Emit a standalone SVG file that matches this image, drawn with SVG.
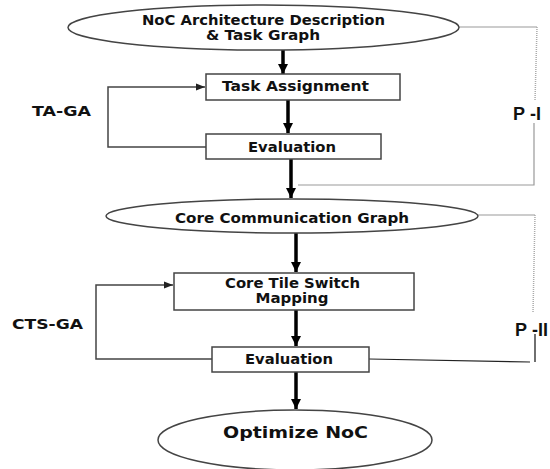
<svg xmlns="http://www.w3.org/2000/svg" width="550" height="469" viewBox="0 0 550 469">
<defs>
<style>
.shape{fill:#fff;stroke:#444;stroke-width:1.5}
.t{font-family:"DejaVu Sans","Liberation Sans",sans-serif;font-weight:bold;fill:#111;text-anchor:middle}
.p{font-family:"Liberation Sans",Arial,sans-serif;font-weight:bold;fill:#111}
.flow{stroke:#000;stroke-width:3.5;fill:none}
.loop{stroke:#444;stroke-width:1.5;fill:none}
.br{stroke:#999;stroke-width:1.2;fill:none}
.dot{stroke:#aaa;stroke-width:1.5;fill:none;stroke-dasharray:1 1}
</style>
<marker id="big" markerUnits="userSpaceOnUse" markerWidth="12" markerHeight="10" refX="10" refY="5" orient="auto">
<path d="M0,0 L10,5 L0,10 Z" fill="#000"/>
</marker>
<marker id="small" markerUnits="userSpaceOnUse" markerWidth="10" markerHeight="8" refX="9" refY="4" orient="auto">
<path d="M0,0.5 L9,4 L0,7.5 Z" fill="#222"/>
</marker>
</defs>
<rect width="550" height="469" fill="#fff"/>

<g id="connectors">
<line class="flow" x1="283" y1="50" x2="283" y2="74" marker-end="url(#big)"/>
<line class="flow" x1="288" y1="100" x2="288" y2="133" marker-end="url(#big)"/>
<line class="flow" x1="291" y1="159" x2="291" y2="198" marker-end="url(#big)"/>
<line class="flow" x1="296" y1="233" x2="296" y2="272" marker-end="url(#big)"/>
<line class="flow" x1="296" y1="310" x2="296" y2="346" marker-end="url(#big)"/>
<line class="flow" x1="296" y1="372" x2="296" y2="409" marker-end="url(#big)"/>
<polyline class="loop" points="206,147 108,147 108,87 205,87" marker-end="url(#small)"/>
<polyline class="loop" points="212,359 96,359 96,285 173,285" marker-end="url(#small)"/>
<polyline class="br" points="459,27 537,27"/>
<line class="dot" x1="537" y1="27" x2="535" y2="101"/>
<polyline class="br" points="534,123 534,185 298,185"/>
<polyline class="br" points="478,215 535,215"/>
<line class="dot" x1="535" y1="215" x2="533" y2="313"/>
<line stroke="#222" stroke-width="1.3" x1="535" y1="334" x2="535" y2="362"/>
<line stroke="#222" stroke-width="1.2" x1="369" y1="359" x2="530" y2="362"/>
</g>

<g id="n-noc-arch">
<ellipse class="shape" cx="263.5" cy="27.5" rx="195.5" ry="22.5"/>
<text class="t" x="263.5" y="25" font-size="14" textLength="243" lengthAdjust="spacingAndGlyphs">NoC Architecture Description</text>
<text class="t" x="263" y="40" font-size="14" textLength="114" lengthAdjust="spacingAndGlyphs">&amp; Task Graph</text>
</g>

<g id="n-task-assignment">
<rect class="shape" x="206" y="74" width="194" height="26"/>
<text class="t" x="295.5" y="91" font-size="14" textLength="147" lengthAdjust="spacingAndGlyphs">Task Assignment</text>
</g>

<g id="n-eval1">
<rect class="shape" x="206" y="134" width="175" height="25"/>
<text class="t" x="292" y="152" font-size="14" textLength="88" lengthAdjust="spacingAndGlyphs">Evaluation</text>
</g>

<g id="n-ccg">
<ellipse class="shape" cx="292" cy="216" rx="186" ry="17"/>
<text class="t" x="292" y="223" font-size="14" textLength="234" lengthAdjust="spacingAndGlyphs">Core Communication Graph</text>
</g>

<g id="n-cts-mapping">
<rect class="shape" x="174" y="273" width="240" height="37"/>
<text class="t" x="292.5" y="288" font-size="14" textLength="135" lengthAdjust="spacingAndGlyphs">Core Tile Switch</text>
<text class="t" x="292" y="303" font-size="14" textLength="73" lengthAdjust="spacingAndGlyphs">Mapping</text>
</g>

<g id="n-eval2">
<rect class="shape" x="212" y="347" width="157" height="25"/>
<text class="t" x="289" y="364" font-size="14" textLength="88" lengthAdjust="spacingAndGlyphs">Evaluation</text>
</g>

<g id="n-optimize">
<ellipse class="shape" cx="295" cy="440" rx="137" ry="30"/>
<text class="t" x="295.5" y="438" font-size="16" textLength="145" lengthAdjust="spacingAndGlyphs">Optimize  NoC</text>
</g>

<g id="labels">
<text class="t" x="61.5" y="116" font-size="14" textLength="59" lengthAdjust="spacingAndGlyphs">TA-GA</text>
<text class="t" x="47.5" y="329" font-size="14" textLength="71" lengthAdjust="spacingAndGlyphs">CTS-GA</text>
<text class="p" x="513" y="120" font-size="18">P<tspan dx="5">-</tspan>I</text>
<text class="p" x="515" y="336" font-size="18">P<tspan dx="5">-</tspan>II</text>
</g>
</svg>
